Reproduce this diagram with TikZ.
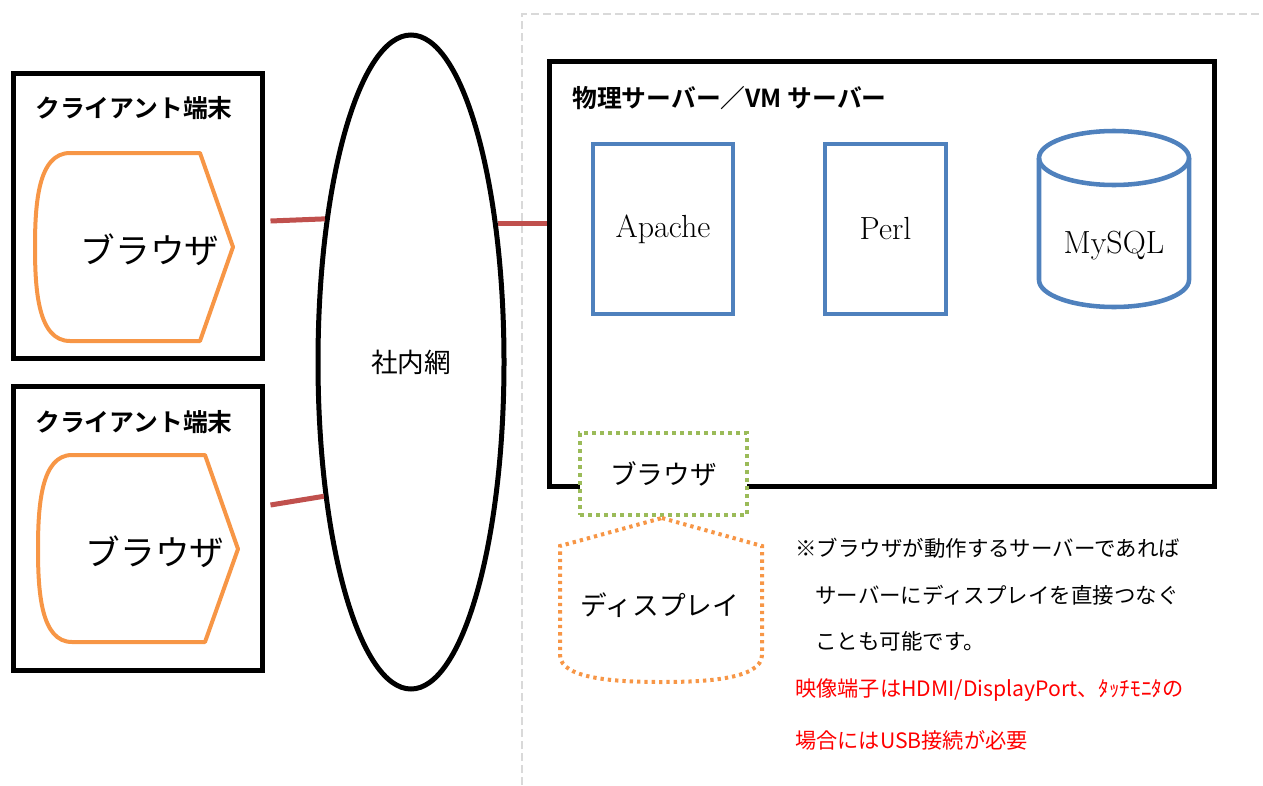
\documentclass[tikz,border=0pt]{standalone}
\usepackage{fontspec}
\newfontfamily\jp{Noto Sans CJK JP}[BoldFont={Noto Sans CJK JP Bold}]
\usepackage{tikz}
\usetikzlibrary{shapes.geometric}
\definecolor{shellorange}{HTML}{F79646}
\definecolor{appblue}{HTML}{4F81BD}
\definecolor{lanred}{HTML}{C0504D}
\definecolor{viewgreen}{HTML}{9BBB59}
\definecolor{warnred}{HTML}{FF0000}
\definecolor{areagray}{HTML}{D9D9D9}

\begin{document}
\begin{tikzpicture}[x=0.75pt, y=-0.75pt]
        \tikzset{
           frame/.style={
                        rectangle,
                        draw=black,
                        line width=3.75pt,
                        inner sep=0pt
                       },
           title/.style={anchor=west, inner sep=0pt, font=\jp\bfseries\fontsize{18.6}{22}\selectfont},
           app/.style={rectangle, draw=appblue, line width=3.4pt, inner sep=0pt,
                       minimum height=127.5pt, font=\fontsize{24}{28}\selectfont},
           kana/.style={inner sep=0pt, font=\jp\fontsize{20}{24}\selectfont},
           bigkana/.style={inner sep=0pt, font=\jp\fontsize{26}{30}\selectfont},
           shell/.style={draw=shellorange, line width=3pt, line join=round},
           lan/.style={draw=lanred, line width=3.75pt},
           note/.style={anchor=west, inner sep=0pt, font=\jp\fontsize{16.1}{19}\selectfont},
           warn/.style={note, text=warnred, font=\jp\fontsize{15.9}{19}\selectfont},
                 };
        \useasboundingbox (0,0) rectangle (1263,785);
        % server area
        \draw[areagray, line width=1.5pt, dash pattern=on 6pt off 3pt] (522,785) -- (522,14) -- (1263,14);
        %----------------
        \node[frame, minimum width=186.75pt, minimum height=213.75pt] (client1) at (137.5,215.5) {};
        \node[title] (client1title) at (35,108) {クライアント端末};
        \draw[shell] (70,153) -- (200,153) -- (233,247) -- (200,341) -- (70,341)
              .. controls (38,341) and (35,290) .. (35,247) .. controls (35,204) and (38,153) .. cycle;
        \node[bigkana] (browser1) at (150,250) {ブラウザ};
        \node[frame, minimum width=186.75pt, minimum height=213pt] (client2) at (137.5,528) {};
        \node[title] (client2title) at (35,422) {クライアント端末};
        \draw[shell] (72,455) -- (205,455) -- (238,549) -- (205,642) -- (72,642)
              .. controls (41,642) and (38,592) .. (38,549) .. controls (38,506) and (41,455) .. cycle;
        \node[bigkana] (browser2) at (155,552) {ブラウザ};
        %----------------
        \node[ellipse, draw=black, line width=3.75pt, minimum width=139.5pt, minimum height=490.5pt,
              kana] (net) at (411,362) {社内網};
        %----------------
        \node[frame, minimum width=498.75pt, minimum height=318.75pt] (server) at (881.5,273.5) {};
        \node[title] (servertitle) at (572,98) {物理サーバー／VM サーバー};
        \node[app, minimum width=105pt] (apache) at (663,229) {Apache};
        \node[app, minimum width=90.75pt] (perl) at (885.5,229) {Perl};
        \draw[appblue, line width=3.4pt] (1039,158) -- (1039,280)
              arc[start angle=180, end angle=360, x radius=56.25pt, y radius=20.25pt] -- (1189,158);
        \draw[appblue, line width=3.4pt] (1114,158) ellipse[x radius=56.25pt, y radius=20.25pt];
        \node[inner sep=0pt, font=\fontsize{24}{28}\selectfont] (mysql) at (1114,246) {MySQL};
        \node[kana, rectangle, draw=viewgreen, fill=white, line width=3pt, dash pattern=on 3pt off 3pt,
              minimum width=125.25pt, minimum height=61.5pt] (serverbrowser) at (663.5,474) {ブラウザ};
        \draw[shellorange, line width=3pt, dash pattern=on 2.5pt off 3pt]
              (662,518) -- (762,546) -- (762,655) .. controls (762,680) and (700,682) .. (662,682)
              .. controls (622,682) and (560,680) .. (560,655) -- (560,546) -- cycle;
        \node[kana] (display) at (660,605) {ディスプレイ};
        %----------------
        \node[note] (note1) at (795,548) {※ブラウザが動作するサーバーであれば};
        \node[note] (note2) at (815,595) {サーバーにディスプレイを直接つなぐ};
        \node[note] (note3) at (815,641) {ことも可能です。};
        \node[warn] (warn1) at (795,690) {映像端子はHDMI/DisplayPort、ﾀｯﾁﾓﾆﾀの};
        \node[warn] (warn2) at (795,740) {場合にはUSB接続が必要};
        %----------------
        \path (net.58) edge[lan] (net.58 -| server.west)
              ([xshift=4.5pt,yshift=-4.125pt]client1.east) edge[lan] (net.121)
              ([xshift=4.5pt,yshift=17.25pt]client2.east) edge[lan] (net.237)
        ;
\end{tikzpicture}
\end{document}
